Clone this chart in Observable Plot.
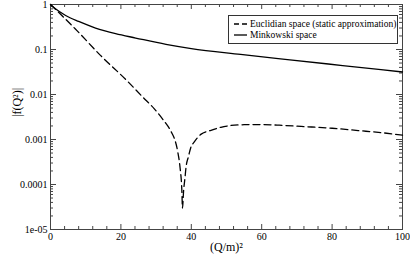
<!DOCTYPE html>
<html>
<head>
<meta charset="utf-8">
<script src="https://cdn.jsdelivr.net/npm/d3@7"></script>
<script src="https://cdn.jsdelivr.net/npm/@observablehq/plot@0.6"></script>
<style>
  body { margin: 0; background: #fff; }
  #wrap { position: relative; width: 410px; height: 258px; font-family: "Liberation Serif", serif; }
  #legend { position: absolute; left: 228px; top: 15px; width: 168px; height: 27px; border: 1px solid #333; background: #fff; font-size: 9.5px; color: #000; }
  .row { position: absolute; left: 0; height: 12px; line-height: 12px; }
  .row svg { position: absolute; left: 4px; top: 0; }
  .row span { position: absolute; left: 21px; white-space: nowrap; }
</style>
</head>
<body>
<div id="wrap"></div>
<script>
const xTicks = [0, 20, 40, 60, 80, 100];
const yTicks = [1, 0.1, 0.01, 0.001, 0.0001, 1e-5];
const yTickLabels = ["1", "0.1", "0.01", "0.001", "0.0001", "1e-05"];
const seriesNames = ["Euclidian space (static approximation)", "Minkowski space"];
const xLabel = "(Q/m)²";
const yLabel = "|f(Q²)|";

const euclidX = [0, 7, 14.2, 21.8, 26, 29.5, 32, 33.5, 34.5, 35.3, 36.1, 36.8, 37.3, 37.5, 37.8, 38.2, 38.5, 39.2, 39.9, 40.8, 42.7, 45.6, 48.4, 51.3, 55, 58.9, 65, 71.2, 80, 87.4, 94, 100];
const euclidY = [1, 0.29, 0.074, 0.02, 0.0091, 0.0048, 0.00275, 0.0019, 0.00138, 0.001, 0.00056, 0.00024, 0.000079, 0.00003, 0.00007, 0.00014, 0.00024, 0.00042, 0.00068, 0.00087, 0.0013, 0.0016, 0.00187, 0.00205, 0.00213, 0.00215, 0.00208, 0.00195, 0.00178, 0.00158, 0.00142, 0.00125];
const minkX = [0, 1.4, 4.3, 8, 12.8, 18.5, 24.2, 32.8, 40, 54, 68, 83, 100];
const minkY = [1, 0.8, 0.57, 0.42, 0.3, 0.225, 0.18, 0.13, 0.105, 0.078, 0.059, 0.044, 0.0316];

const euclid = euclidX.map((x, i) => ({x, y: euclidY[i]}));
const mink = minkX.map((x, i) => ({x, y: minkY[i]}));

const W = 410, H = 258, mL = 50, mR = 8, mT = 4, mB = 29;
const fw = W - mL - mR, fh = H - mT - mB;
const xMinor = d3.range(0, 101, 4).filter(v => v % 20 !== 0);
const yMinor = [];
for (let e = -5; e < 0; e++) for (let k = 2; k <= 9; k++) yMinor.push(k * Math.pow(10, e));
const ax = "#444";

const chart = Plot.plot({
  width: W, height: H,
  marginLeft: mL, marginRight: mR, marginTop: mT, marginBottom: mB,
  style: {fontFamily: "Liberation Serif, serif", fontSize: "10px", background: "#fff", color: "#000"},
  x: {domain: [0, 100]},
  y: {type: "log", domain: [1e-5, 1]},
  marks: [
    Plot.frame({stroke: ax, strokeWidth: 1}),
    Plot.tickX(xTicks, {x: d => d, insetTop: fh - 5, stroke: ax}),
    Plot.tickX(xTicks, {x: d => d, insetBottom: fh - 5, stroke: ax}),
    Plot.tickX(xMinor, {x: d => d, insetTop: fh - 3, stroke: ax}),
    Plot.tickX(xMinor, {x: d => d, insetBottom: fh - 3, stroke: ax}),
    Plot.tickY(yTicks, {y: d => d, insetRight: fw - 6, stroke: ax}),
    Plot.tickY(yTicks, {y: d => d, insetLeft: fw - 6, stroke: ax}),
    Plot.tickY(yMinor, {y: d => d, insetRight: fw - 3, stroke: ax}),
    Plot.tickY(yMinor, {y: d => d, insetLeft: fw - 3, stroke: ax}),
    Plot.axisX(xTicks, {tickSize: 0, tickPadding: 3, label: null, fontSize: 10}),
    Plot.axisY(yTicks, {tickSize: 0, tickPadding: 3, label: null, fontSize: 10,
      tickFormat: d => yTickLabels[yTicks.indexOf(d)]}),
    Plot.line(mink, {x: "x", y: "y", stroke: "#000", strokeWidth: 1.3, curve: "monotone-x"}),
    Plot.line(euclid, {x: "x", y: "y", stroke: "#000", strokeWidth: 1.3, strokeDasharray: "7,4", curve: "monotone-x"}),
    Plot.text([xLabel], {frameAnchor: "bottom", dy: 21, fontSize: 12, text: d => d}),
    Plot.text([yLabel], {frameAnchor: "left", dx: -33, rotate: -90, fontSize: 12, text: d => d})
  ]
});

const wrap = document.getElementById("wrap");
wrap.appendChild(chart);

const legend = document.createElement("div");
legend.id = "legend";
const styles = ["5,3", null];
seriesNames.forEach((name, i) => {
  const row = document.createElement("div");
  row.className = "row";
  row.style.top = (2 + i * 11) + "px";
  row.innerHTML = `<svg width="16" height="12"><line x1="1" y1="6" x2="14" y2="6" stroke="#000" stroke-width="1.3" ${styles[i] ? `stroke-dasharray="${styles[i]}"` : ""}/></svg><span>${name}</span>`;
  legend.appendChild(row);
});
wrap.appendChild(legend);
</script>
</body>
</html>
